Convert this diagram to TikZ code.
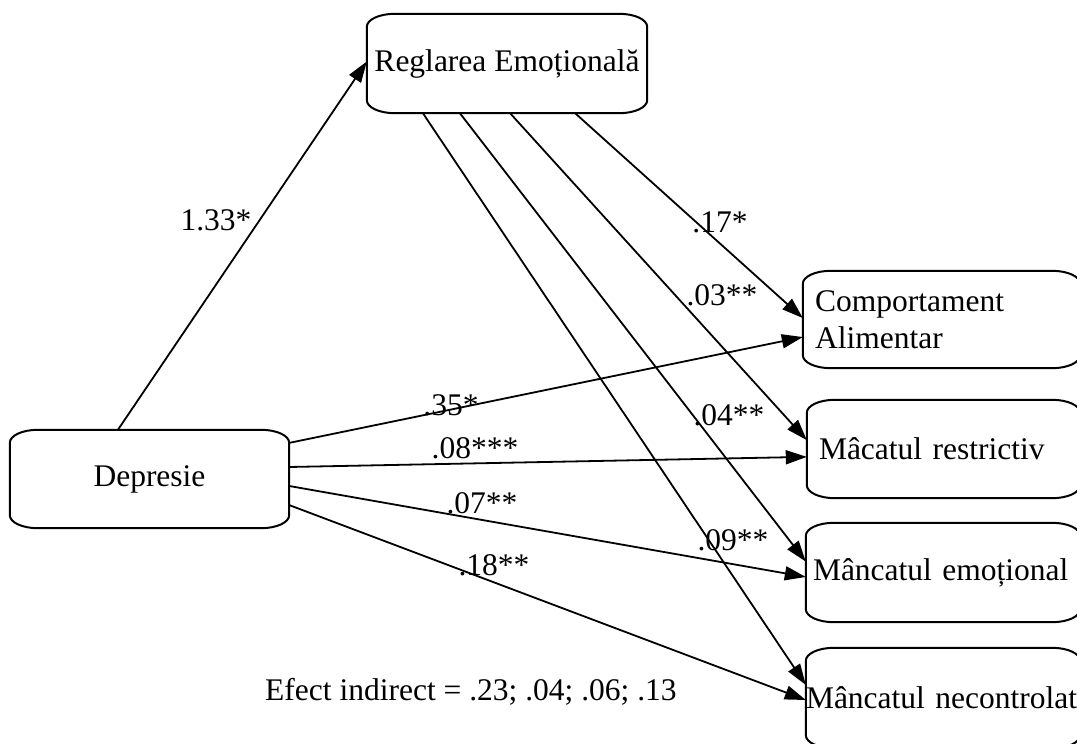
\documentclass[tikz,border=0pt]{standalone}
\usepackage{fontspec}
\setmainfont{Liberation Serif}
\usetikzlibrary{calc,arrows.meta}
\newcommand\eboxdraw[1]{%
  \draw[boxline] ($(#1.north west)+(28pt,0pt)$) -- ($(#1.north east)+(-28pt,0pt)$)
    arc[start angle=90,end angle=0,x radius=28pt,y radius=13pt]
    -- ($(#1.south east)+(0pt,13pt)$)
    arc[start angle=0,end angle=-90,x radius=28pt,y radius=13pt]
    -- ($(#1.south west)+(28pt,0pt)$)
    arc[start angle=270,end angle=180,x radius=28pt,y radius=13pt]
    -- ($(#1.north west)+(0pt,-13pt)$)
    arc[start angle=180,end angle=90,x radius=28pt,y radius=13pt] -- cycle;}
\begin{document}
\begin{tikzpicture}[x=1pt,y=-1pt,
  txt/.style={font=\fontsize{31.5}{37}\selectfont},
  ebox/.style={txt, draw=none, inner ysep=0pt},
  lbl/.style={txt, inner sep=0pt},
  boxline/.style={line width=2pt},
  arr/.style={line width=1.8pt, -{Triangle[length=21pt,width=14pt]}}]
\useasboundingbox (0,0) rectangle (1077,744);
\clip (0,0) rectangle (1077,744);
% boxes
\node[ebox, minimum width=280pt, minimum height=99pt, align=center] (reg) at (507,63.5) {Reglarea Emoțională};
\node[ebox, minimum width=279pt, minimum height=98pt, align=center] (dep) at (149.5,479) {Depresie};
\node[ebox, minimum height=97pt, inner xsep=12pt, text width=253pt, align=left] (comp) at (941.5,319.5) {Comportament\\Alimentar};
\node[ebox, minimum height=98pt, inner xsep=12pt, text width=249pt, align=left] (restr) at (943.5,449) {Mâcatul restrictiv};
\node[ebox, minimum height=99pt, inner xsep=7pt, text width=260pt, align=left] (emo) at (943,572.5) {Mâncatul emoțional};
\node[ebox, minimum height=100pt, inner xsep=0pt, text width=274pt, align=left] (nec) at (943,698) {Mâncatul necontrolat};
\eboxdraw{reg}
\eboxdraw{dep}
\eboxdraw{comp}
\eboxdraw{restr}
\eboxdraw{emo}
\eboxdraw{nec}
% connectors
\draw[arr] ($(dep.north west)!0.387!(dep.north east)$) -- ($(reg.north west)!0.48!(reg.south west)$);
\draw[arr] ($(reg.south west)!0.743!(reg.south east)$) -- ($(comp.north west)!0.485!(comp.south west)$);
\draw[arr] ($(reg.south west)!0.511!(reg.south east)$) -- ($(restr.north west)!0.41!(restr.south west)$);
\draw[arr] ($(reg.south west)!0.332!(reg.south east)$) -- ($(emo.north west)!0.39!(emo.south west)$);
\draw[arr] ($(reg.south west)!0.2!(reg.south east)$) -- ($(nec.north west)!0.37!(nec.south west)$);
\draw[arr] ($(dep.north east)!0.133!(dep.south east)$) -- ($(comp.north west)!0.68!(comp.south west)$);
\draw[arr] ($(dep.north east)!0.378!(dep.south east)$) -- ($(restr.north west)!0.58!(restr.south west)$);
\draw[arr] ($(dep.north east)!0.571!(dep.south east)$) -- ($(emo.north west)!0.545!(emo.south west)$);
\draw[arr] ($(dep.north east)!0.765!(dep.south east)$) -- ($(nec.north west)!0.52!(nec.south west)$);
% labels
\node[lbl] (l133) at (216,220) {1.33*};
\node[lbl] (l17) at (720,222) {.17*};
\node[lbl] (l03) at (722,295) {.03**};
\node[lbl] (l35) at (451,405) {.35*};
\node[lbl] (l04) at (729,415) {.04**};
\node[lbl] (l08) at (475,448) {.08***};
\node[lbl] (l07) at (482,503) {.07**};
\node[lbl] (l09) at (733,540) {.09**};
\node[lbl] (l18) at (494,565) {.18**};
\node[lbl, anchor=west] (efect) at (265,692) {Efect indirect = .23; .04; .06; .13};
\end{tikzpicture}
\end{document}
